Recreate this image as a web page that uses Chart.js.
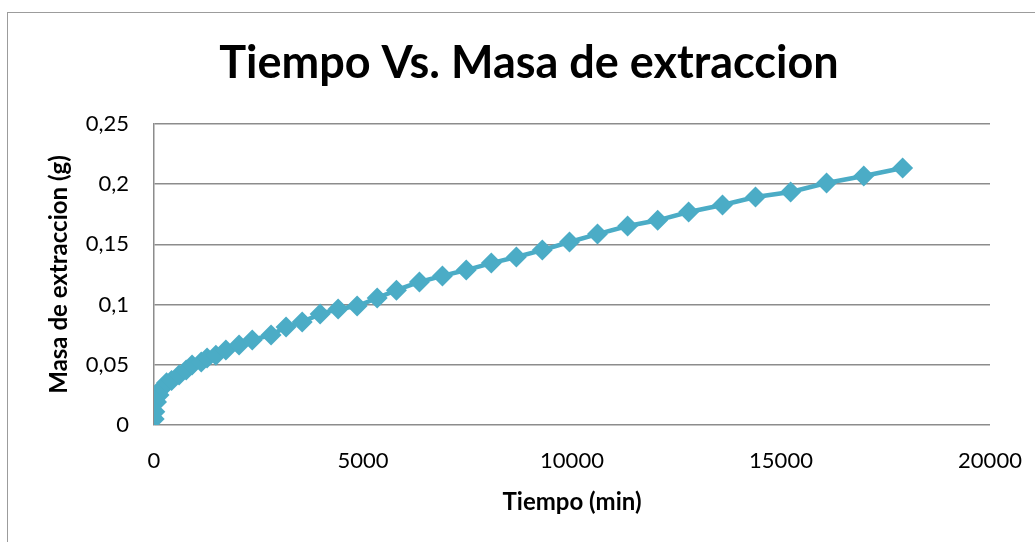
<!DOCTYPE html>
<html>
<head>
<meta charset="utf-8">
<script src="https://cdn.jsdelivr.net/npm/chart.js@4.4.1/dist/chart.umd.min.js"></script>
<style>
  html, body { margin: 0; padding: 0; background: #ffffff; }
  body { width: 1035px; height: 542px; position: relative; overflow: hidden; }
  #frame { position: absolute; left: 7px; top: 12px; width: 1100px; height: 600px;
           border: 1.5px solid #9c9c9c; box-sizing: border-box; }
  #wrap { position: absolute; left: 0; top: 0; width: 1035px; height: 542px; }
</style>
</head>
<body>
<div id="frame"></div>
<div id="wrap"><canvas id="c" width="1035" height="542"></canvas></div>
<script>
// Data
const tiempo = [5, 20, 60, 120, 200, 300, 420, 600, 770, 910, 1130, 1270, 1480, 1720, 2035, 2350,
  2800, 3160, 3545, 3975, 4405, 4860, 5340, 5800, 6350, 6900, 7470, 8070, 8670, 9290, 9940,
  10610, 11330, 12050, 12790, 13600, 14390, 15230, 16090, 16980, 17910];
const masa = [0.005, 0.011, 0.019, 0.025, 0.031, 0.035, 0.037, 0.0415, 0.0457, 0.0498, 0.0523,
  0.0556, 0.058, 0.0623, 0.0664, 0.0706, 0.0748, 0.0814, 0.0855, 0.0922, 0.0963, 0.0988,
  0.1055, 0.112, 0.1188, 0.1238, 0.1287, 0.1345, 0.1395, 0.1453, 0.152, 0.1586, 0.1653,
  0.170, 0.1769, 0.1827, 0.1894, 0.1935, 0.201, 0.2068, 0.2135];
const yTicks = [0, 0.05, 0.1, 0.15, 0.2, 0.25];
const xTicks = [0, 5000, 10000, 15000, 20000];
const titulo = 'Tiempo Vs. Masa de extraccion';
const tituloX = 'Tiempo (min)';
const tituloY = 'Masa de extraccion (g)';

const puntos = tiempo.map((t, i) => ({ x: t, y: masa[i] }));
const color = '#4BACC6';
const gridColor = '#8c8c8c';
const FONT = 'Lato, "Open Sans", sans-serif';

new Chart(document.getElementById('c'), {
  type: 'scatter',
  data: {
    datasets: [{
      data: puntos,
      showLine: true,
      borderColor: color,
      backgroundColor: color,
      borderWidth: 4.5,
      pointStyle: 'rectRot',
      pointRadius: 10.5,
      pointHoverRadius: 10.5,
      pointBorderWidth: 0,
      pointBackgroundColor: color,
      tension: 0
    }]
  },
  options: {
    responsive: false,
    animation: false,
    events: [],
    layout: { padding: { left: 23, right: 0, top: 0, bottom: 0 } },
    plugins: {
      legend: { display: false },
      tooltip: { enabled: false },
      title: {
        display: true,
        text: titulo,
        color: '#000',
        font: { family: FONT, size: 45, weight: 'bold', lineHeight: 1.2 },
        padding: { top: 36, bottom: 34 }
      }
    },
    scales: {
      x: {
        type: 'linear',
        min: 0, max: 20000,
        afterBuildTicks: (s) => { s.ticks = xTicks.map(v => ({ value: v })); },
        afterFit: (s) => { s.height = 117; },
        grid: { display: false, drawTicks: true, tickLength: 21 },
        border: { display: false },
        ticks: {
          color: '#000', padding: 2,
          font: { family: FONT, size: 22 },
          callback: (v) => String(v)
        },
        title: {
          display: true, text: tituloX, color: '#000',
          font: { family: FONT, size: 24, weight: 'bold', lineHeight: 1.2 },
          padding: { top: 0, bottom: 25 }
        }
      },
      y: {
        type: 'linear',
        min: 0, max: 0.25,
        afterBuildTicks: (s) => { s.ticks = yTicks.map(v => ({ value: v })); },
        afterFit: (s) => { s.width = 131; },
        grid: { color: gridColor, lineWidth: 1.5, drawTicks: false },
        border: { display: true, color: gridColor, width: 1.5 },
        ticks: {
          color: '#000', padding: 25,
          font: { family: FONT, size: 22 },
          callback: (v) => String(Math.round(v * 100) / 100).replace('.', ',')
        },
        title: {
          display: true, text: tituloY, color: '#000',
          font: { family: FONT, size: 24, weight: 'bold', lineHeight: 1.2 },
          padding: { top: 22, bottom: 0 }
        }
      },
      yr: {
        type: 'linear',
        position: 'right',
        display: true,
        afterFit: (s) => { s.width = 45; },
        grid: { display: false, drawTicks: false },
        border: { display: false },
        ticks: { display: false }
      }
    }
  }
});
</script>
</body>
</html>
